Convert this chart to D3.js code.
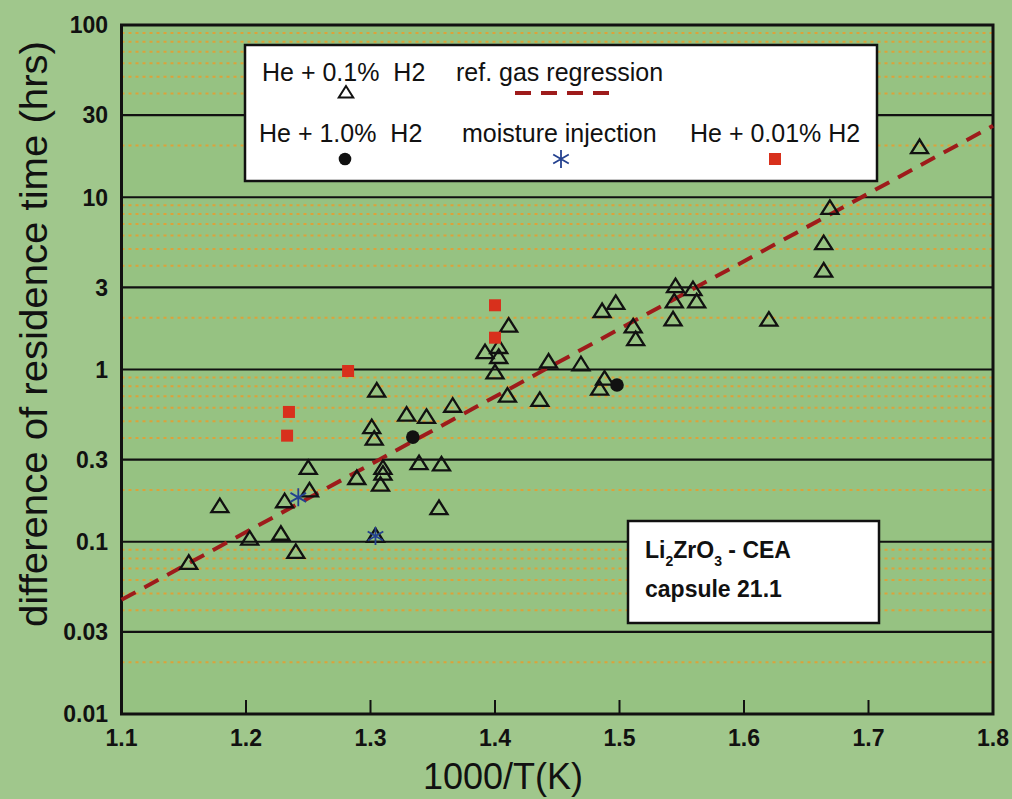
<!DOCTYPE html>
<html>
<head>
<meta charset="utf-8">
<script src="https://cdn.jsdelivr.net/npm/d3@7"></script>
<style>
  html, body { margin: 0; padding: 0; background: #a0c78c; }
  svg { display: block; }
  text { font-family: "Liberation Sans", Arial, Helvetica, sans-serif; }
</style>
</head>
<body>
<svg id="chart" width="1012" height="799"></svg>
<script>
// ---------- data ----------
const xTicks = [1.1, 1.2, 1.3, 1.4, 1.5, 1.6, 1.7, 1.8];
const xTickLabels = ["1.1", "1.2", "1.3", "1.4", "1.5", "1.6", "1.7", "1.8"];
const yTicks = [0.01, 0.03, 0.1, 0.3, 1, 3, 10, 30, 100];
const yTickLabels = ["0.01", "0.03", "0.1", "0.3", "1", "3", "10", "30", "100"];
const minorGrid = [0.02, 0.04, 0.05, 0.06, 0.07, 0.08, 0.09,
                   0.2, 0.4, 0.5, 0.6, 0.7, 0.8, 0.9,
                   2, 4, 5, 6, 7, 8, 9,
                   20, 40, 50, 60, 70, 80, 90];

// He + 0.1% H2 (open triangles)
const triX = [1.154, 1.179, 1.203, 1.228, 1.231, 1.240, 1.250, 1.251, 1.289, 1.305,
              1.301, 1.303, 1.310, 1.310, 1.308, 1.304, 1.329, 1.345, 1.339, 1.357,
              1.355, 1.366, 1.392, 1.403, 1.403, 1.400, 1.411, 1.410, 1.436, 1.443,
              1.469, 1.488, 1.484, 1.486, 1.497, 1.511, 1.513, 1.545, 1.559, 1.544,
              1.562, 1.543, 1.620, 1.664, 1.664, 1.669, 1.741];
const triY = [0.076, 0.162, 0.105, 0.112, 0.173, 0.088, 0.27, 0.20, 0.236, 0.76,
              0.466, 0.40, 0.27, 0.25, 0.216, 0.109, 0.55, 0.535, 0.288, 0.283,
              0.158, 0.62, 1.27, 1.36, 1.19, 0.97, 1.81, 0.71, 0.67, 1.12,
              1.08, 0.89, 0.78, 2.2, 2.45, 1.79, 1.51, 3.07, 2.95, 2.5,
              2.5, 1.97, 1.96, 3.78, 5.45, 8.74, 19.7];
// He + 1.0% H2 (filled dots)
const dotX = [1.334, 1.498];
const dotY = [0.405, 0.813];
// moisture injection (asterisks)
const starX = [1.242, 1.304];
const starY = [0.181, 0.108];
// He + 0.01% H2 (red squares)
const sqX = [1.282, 1.2345, 1.233, 1.400, 1.400];
const sqY = [0.98, 0.567, 0.413, 2.36, 1.53];
// ref. gas regression (endpoints)
const regX = [1.1, 1.8];
const regY = [0.046, 26];

// ---------- layout ----------
const L = 121.5, R = 993, T = 25, B = 714;
const svg = d3.select("#chart");
const x = d3.scaleLinear().domain([1.1, 1.8]).range([L, R]);
const y = d3.scaleLog().domain([0.01, 100]).range([B, T]);

svg.append("rect").attr("width", 1012).attr("height", 799).attr("fill", "#a0c78c");
svg.append("rect").attr("x", L).attr("y", T).attr("width", R - L).attr("height", B - T)
  .attr("fill", "#96c282");

// minor dotted grid
svg.append("g").selectAll("line").data(minorGrid).join("line")
  .attr("x1", L).attr("x2", R)
  .attr("y1", d => y(d)).attr("y2", d => y(d))
  .attr("stroke", "#dca23a").attr("stroke-width", 2)
  .attr("stroke-dasharray", "3,4");

// major solid grid
svg.append("g").selectAll("line").data(yTicks.slice(1, -1)).join("line")
  .attr("x1", L).attr("x2", R)
  .attr("y1", d => y(d)).attr("y2", d => y(d))
  .attr("stroke", "#111").attr("stroke-width", 2.2);

// bottom inner ticks
svg.append("g").selectAll("line").data(xTicks.slice(1, -1)).join("line")
  .attr("x1", d => x(d)).attr("x2", d => x(d))
  .attr("y1", B).attr("y2", B - 14)
  .attr("stroke", "#111").attr("stroke-width", 2);

// frame
svg.append("rect").attr("x", L).attr("y", T).attr("width", R - L).attr("height", B - T)
  .attr("fill", "none").attr("stroke", "#111").attr("stroke-width", 3);

// tick labels
svg.append("g").selectAll("text").data(xTicks).join("text")
  .attr("x", d => x(d)).attr("y", 746)
  .attr("text-anchor", "middle").attr("font-size", 23).attr("font-weight", "bold")
  .attr("fill", "#111")
  .text((d, i) => xTickLabels[i]);
svg.append("g").selectAll("text").data(yTicks).join("text")
  .attr("x", 108).attr("y", d => y(d)).attr("dy", "0.36em")
  .attr("text-anchor", "end").attr("font-size", 23).attr("font-weight", "bold")
  .attr("fill", "#111")
  .text((d, i) => yTickLabels[i]);

// axis titles
svg.append("text").attr("x", 503).attr("y", 789).attr("text-anchor", "middle")
  .attr("font-size", 36).attr("fill", "#111").text("1000/T(K)");
svg.append("text").attr("transform", "translate(47,334) rotate(-90)")
  .attr("text-anchor", "middle").attr("font-size", 38).attr("fill", "#111")
  .attr("textLength", 586).attr("lengthAdjust", "spacingAndGlyphs")
  .text("difference of residence time (hrs)");

// regression line
svg.append("path")
  .datum(regX.map((d, i) => [d, regY[i]]))
  .attr("d", d3.line().x(d => x(d[0])).y(d => y(d[1])))
  .attr("fill", "none").attr("stroke", "#9e1b1b").attr("stroke-width", 4)
  .attr("stroke-dasharray", "16,10");

// markers
function triPath(cx, cy, s) {
  return `M${cx},${cy - 7 * s}L${cx - 8.5 * s},${cy + 6.5 * s}L${cx + 8.5 * s},${cy + 6.5 * s}Z`;
}
function starPath(cx, cy, r) {
  let p = "";
  [90, 30, -30].forEach(a => {
    const rad = a * Math.PI / 180, dx = r * Math.cos(rad), dy = r * Math.sin(rad);
    p += `M${cx - dx},${cy - dy}L${cx + dx},${cy + dy}`;
  });
  return p;
}

svg.append("g").selectAll("path").data(triX).join("path")
  .attr("d", (d, i) => triPath(x(d), y(triY[i]), 1))
  .attr("fill", "none").attr("stroke", "#111").attr("stroke-width", 2.3)
  .attr("stroke-linejoin", "miter");

svg.append("g").selectAll("circle").data(dotX).join("circle")
  .attr("cx", d => x(d)).attr("cy", (d, i) => y(dotY[i])).attr("r", 6.8)
  .attr("fill", "#111");

svg.append("g").selectAll("rect").data(sqX).join("rect")
  .attr("x", d => x(d) - 6).attr("y", (d, i) => y(sqY[i]) - 6)
  .attr("width", 12).attr("height", 12).attr("fill", "#d8301c");

svg.append("g").selectAll("path").data(starX).join("path")
  .attr("d", (d, i) => starPath(x(d), y(starY[i]), 9))
  .attr("fill", "none").attr("stroke", "#24418f").attr("stroke-width", 1.8);

// legend box
const lg = svg.append("g");
lg.append("rect").attr("x", 245).attr("y", 45).attr("width", 632).attr("height", 136)
  .attr("fill", "#fff").attr("stroke", "#111").attr("stroke-width", 2.5);
const legendText = [
  { t: "He + 0.1%  H2", x: 262, y: 81 },
  { t: "ref. gas regression", x: 456, y: 81 },
  { t: "He + 1.0%  H2", x: 259, y: 142 },
  { t: "moisture injection", x: 462, y: 142 },
  { t: "He + 0.01% H2", x: 690, y: 142 }
];
lg.selectAll("text").data(legendText).join("text")
  .attr("x", d => d.x).attr("y", d => d.y).attr("font-size", 25)
  .attr("fill", "#111").style("white-space", "pre").text(d => d.t);
lg.append("path").attr("d", triPath(346, 92, 0.85))
  .attr("fill", "none").attr("stroke", "#111").attr("stroke-width", 2);
lg.append("line").attr("x1", 515).attr("x2", 609).attr("y1", 93).attr("y2", 93)
  .attr("stroke", "#9e1b1b").attr("stroke-width", 4).attr("stroke-dasharray", "16,10");
lg.append("circle").attr("cx", 345).attr("cy", 159).attr("r", 6.3).attr("fill", "#111");
lg.append("path").attr("d", starPath(561, 159, 9))
  .attr("fill", "none").attr("stroke", "#24418f").attr("stroke-width", 1.8);
lg.append("rect").attr("x", 769).attr("y", 153).attr("width", 12).attr("height", 12)
  .attr("fill", "#d8301c");

// annotation box
const ab = svg.append("g");
ab.append("rect").attr("x", 628).attr("y", 521).attr("width", 251).attr("height", 102)
  .attr("fill", "#fff").attr("stroke", "#111").attr("stroke-width", 2.5);
const t1 = ab.append("text").attr("x", 645).attr("y", 558).attr("font-size", 23)
  .attr("font-weight", "bold").attr("fill", "#111");
t1.append("tspan").text("Li");
t1.append("tspan").attr("font-size", 14).attr("dy", 8).text("2");
t1.append("tspan").attr("dy", -8).text("ZrO");
t1.append("tspan").attr("font-size", 14).attr("dy", 8).text("3");
t1.append("tspan").attr("dy", -8).style("white-space", "pre").text(" - CEA");
ab.append("text").attr("x", 645).attr("y", 597).attr("font-size", 23)
  .attr("font-weight", "bold").attr("fill", "#111").text("capsule 21.1");
</script>
</body>
</html>
